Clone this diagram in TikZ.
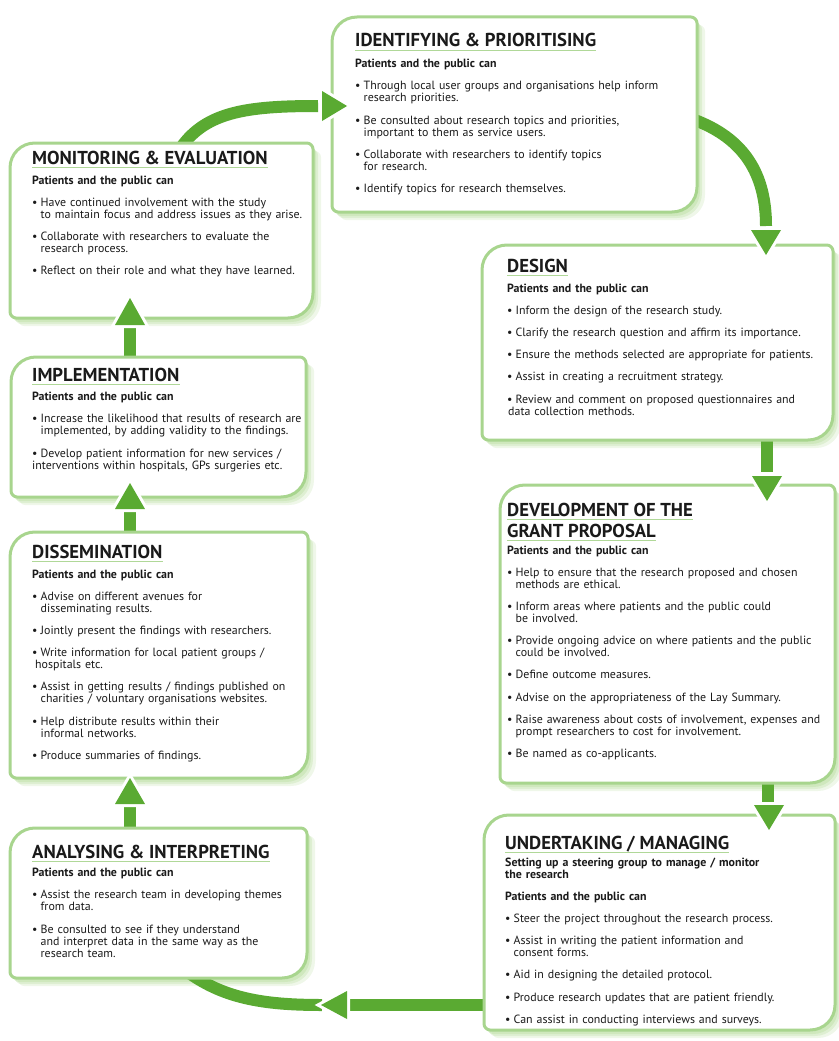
\documentclass[tikz,border=0pt]{standalone}
\usepackage{fontspec}
\setmainfont{PT Sans}
\definecolor{arrowg}{HTML}{5AAA32}
\definecolor{borderg}{HTML}{A8D58E}
\definecolor{shadowg}{HTML}{BFE0A8}
\definecolor{lineg}{HTML}{B0D898}
\definecolor{txt}{HTML}{1A1A1A}
\newcommand\leafpath[4]{({#1},{#2+25}) .. controls ({#1},{#2+11}) and ({#1+11},{#2}) .. ({#1+25},{#2}) -- ({#3-6},{#2}) .. controls ({#3-3},{#2}) and ({#3},{#2+3}) .. ({#3},{#2+6}) -- ({#3},{#4-25}) .. controls ({#3},{#4-11}) and ({#3-11},{#4}) .. ({#3-25},{#4}) -- ({#1+6},{#4}) .. controls ({#1+3},{#4}) and ({#1},{#4-3}) .. ({#1},{#4-6}) -- cycle}
\newcommand\bulhang{8.5pt}
\newcommand\bulgapl{10.2pt}
\newcommand\bul[1]{\par\vspace{\bulgapl}\hangindent=\bulhang\hangafter=1\noindent\hbox to 8.5pt{\textbullet\hss}#1}
\newcommand\bulx[2]{\par\vspace{\bulgapl}\hangindent=#1\hangafter=1\noindent\hbox to 8.5pt{\textbullet\hss}#2}
\newcommand\pub{{\bfseries Patients and the public can}}
\newcommand\boxshadow[4]{%
  \fill[shadowg,opacity=0.25,shift={(8,8)}] \leafpath{#1}{#2}{#3}{#4};
  \fill[shadowg,opacity=0.35,shift={(5,6)}] \leafpath{#1}{#2}{#3}{#4};
  \fill[shadowg,opacity=0.5,shift={(3,4)}] \leafpath{#1}{#2}{#3}{#4};}
\newcommand\boxmain[4]{\draw[boxline] \leafpath{#1}{#2}{#3}{#4};}
\newcommand\ahead[3]{%
  \draw[white,line width=6,line join=miter] #1 -- #2 -- #3 -- cycle;
  \fill[arrowg] #1 -- #2 -- #3 -- cycle;}
\begin{document}
\begin{tikzpicture}[x=1pt,y=-1pt,
  boxline/.style={draw=borderg,line width=3,fill=white},
  band/.style={draw=arrowg,line width=12},
  ttl/.style={anchor=base west,inner sep=0,font=\fontsize{18.7}{20}\selectfont\bfseries,text=txt},
  uline/.style={draw=lineg,line width=1.4},
  body/.style={anchor=north west,inner sep=0,text width=#1,text=txt,
    font=\fontsize{11.9}{12}\selectfont,execute at begin node={\raggedright\parindent=0pt}}]
\useasboundingbox (0,0) rectangle (838,1041);
% shadows
\boxshadow{332}{17}{697}{212}
\boxshadow{10}{143}{313}{318}
\boxshadow{482}{245}{833}{440}
\boxshadow{11}{357}{306}{497}
\boxshadow{10}{532}{308}{778}
\boxshadow{500}{485}{835}{783}
\boxshadow{10}{828}{307}{978}
\boxshadow{484}{815}{835}{1030}
% bands and shafts (under the boxes)
\coordinate (a1s) at (178,152); \coordinate (a1e) at (318,106);
\draw[band] (a1s) .. controls (203,112) and (245,106) .. (a1e);
\coordinate (a2s) at (692,119); \coordinate (a2e) at (766,226);
\draw[band] (a2s) .. controls (745,138) and (766,175) .. (a2e);
\coordinate (a3s) at (767,435); \coordinate (a3e) at (767,472);
\draw[band] (a3s) -- (a3e);
\coordinate (a4s) at (768,775); \coordinate (a4e) at (768,802);
\draw[band] (a4s) -- (a4e);
\coordinate (a5s) at (490,1005); \coordinate (a5e) at (350,1005);
\draw[band] (a5s) -- (a5e);
\coordinate (a6s) at (322,1005); \coordinate (a6e) at (185,970);
\draw[band] (a6s) .. controls (262,1005) and (222,998) .. (a6e);
\coordinate (a7s) at (130,833); \coordinate (a7e) at (130,802);
\draw[band] (a7s) -- (a7e);
\coordinate (a8s) at (130,537); \coordinate (a8e) at (130,507);
\draw[band] (a8s) -- (a8e);
\coordinate (a9s) at (130,362); \coordinate (a9e) at (130,322);
\draw[band] (a9s) -- (a9e);
% boxes
\boxmain{332}{17}{697}{212}
\boxmain{10}{143}{313}{318}
\boxmain{482}{245}{833}{440}
\boxmain{11}{357}{306}{497}
\boxmain{10}{532}{308}{778}
\boxmain{500}{485}{835}{783}
\boxmain{10}{828}{307}{978}
\boxmain{484}{815}{835}{1030}
% IDENTIFYING
\node[ttl] (t1) at (355,47) {IDENTIFYING \& PRIORITISING};
\draw[uline] ([yshift=-3.5pt]t1.base west) -- ([yshift=-3.5pt]t1.base east);
\node[body=330] (b1) at (355,59) {\pub
\bul{Through local user groups and organisations help inform\newline research priorities.}
\bul{Be consulted about research topics and priorities,\newline important to them as service users.}
\bul{Collaborate with researchers to identify topics\newline for research.}
\bul{Identify topics for research themselves.}\par};
% MONITORING
\node[ttl] (t2) at (32,164) {MONITORING \& EVALUATION};
\draw[uline] ([yshift=-3.5pt]t2.base west) -- ([yshift=-3.5pt]t2.base east);
\node[body=290] (b2) at (32,175.5) {\pub
\bul{Have continued involvement with the study\newline to maintain focus and address issues as they arise.}
\bul{Collaborate with researchers to evaluate the\newline research process.}
\bul{Reflect on their role and what they have learned.}\par};
% DESIGN
\node[ttl] (t3) at (507,272) {DESIGN};
\draw[uline] ([yshift=-3.5pt]t3.base west) -- ([yshift=-3.5pt]t3.base east);
\node[body=325] (b3) at (507,283.5) {\pub
\bul{Inform the design of the research study.}
\bul{Clarify the research question and affirm its importance.}
\bul{Ensure the methods selected are appropriate for patients.}
\bul{Assist in creating a recruitment strategy.}
\bulx{1pt}{Review and comment on proposed questionnaires and\newline data collection methods.}\par};
% IMPLEMENTATION
\node[ttl] (t4) at (32,381) {IMPLEMENTATION};
\draw[uline] ([yshift=-3.5pt]t4.base west) -- ([yshift=-3.5pt]t4.base east);
\node[body=290] (b4) at (32,392) {\pub
\bul{Increase the likelihood that results of research are\newline implemented, by adding validity to the findings.}
\bulx{0pt}{Develop patient information for new services /\newline interventions within hospitals, GPs surgeries etc.}\par};
% DISSEMINATION
\node[ttl] (t5) at (32,558) {DISSEMINATION};
\draw[uline] ([yshift=-3.5pt]t5.base west) -- ([yshift=-3.5pt]t5.base east);
\node[body=290] (b5) at (32,569.5) {\pub
\bul{Advise on different avenues for\newline disseminating results.}
\bul{Jointly present the findings with researchers.}
\bulx{3pt}{Write information for local patient groups /\newline hospitals etc.}
\bul{Assist in getting results / findings published on\newline charities / voluntary organisations websites.}
\bul{Help distribute results within their\newline informal networks.}
\bul{Produce summaries of findings.}\par};
% DEVELOPMENT
\node[ttl] (t6) at (507,516) {DEVELOPMENT OF THE};
\draw[uline] ([yshift=-3.5pt]t6.base west) -- ([yshift=-3.5pt]t6.base east);
\node[ttl] (t6b) at (507,537) {GRANT PROPOSAL};
\draw[uline] ([yshift=-3.5pt]t6b.base west) -- ([yshift=-3.5pt]t6b.base east);
\node[body=328] (b6) at (507,545.5) {\pub
\bul{Help to ensure that the research proposed and chosen\newline methods are ethical.}
\bul{Inform areas where patients and the public could\newline be involved.}
\bul{Provide ongoing advice on where patients and the public\newline could be involved.}
\bul{Define outcome measures.}
\bul{Advise on the appropriateness of the Lay Summary.}
\bul{Raise awareness about costs of involvement, expenses and\newline prompt researchers to cost for involvement.}
\bul{Be named as co-applicants.}\par};
% ANALYSING
\node[ttl] (t7) at (32,858) {ANALYSING \& INTERPRETING};
\draw[uline] ([yshift=-3.5pt]t7.base west) -- ([yshift=-3.5pt]t7.base east);
\node[body=290] (b7) at (32,868) {\pub
\bul{Assist the research team in developing themes\newline from data.}
\bul{Be consulted to see if they understand\newline and interpret data in the same way as the\newline research team.}\par};
% UNDERTAKING
\node[ttl] (t8) at (505,849) {UNDERTAKING / MANAGING};
\draw[uline] ([yshift=-3.5pt]t8.base west) -- ([yshift=-3.5pt]t8.base east);
\node[body=328] (b8) at (505,858) {{\bfseries Setting up a steering group to manage / monitor\newline the research}\par\vspace{9.5pt}\pub
\bul{Steer the project throughout the research process.}
\bul{Assist in writing the patient information and\newline consent forms.}
\bul{Aid in designing the detailed protocol.}
\bul{Produce research updates that are patient friendly.}
\bul{Can assist in conducting interviews and surveys.}\par};
% arrow heads
\ahead{(322,91)}{(347,106)}{(322,121)}
\ahead{(751,230)}{(766,255)}{(781,230)}
\ahead{(752,476)}{(767,501)}{(782,476)}
\ahead{(754,805)}{(769,830)}{(784,805)}
\ahead{(347,991)}{(321,1005)}{(347,1019)}
\ahead{(115,804)}{(130,778)}{(145,804)}
\ahead{(115,509)}{(130,483)}{(145,509)}
\ahead{(115,325)}{(130,298)}{(145,325)}
\end{tikzpicture}
\end{document}
